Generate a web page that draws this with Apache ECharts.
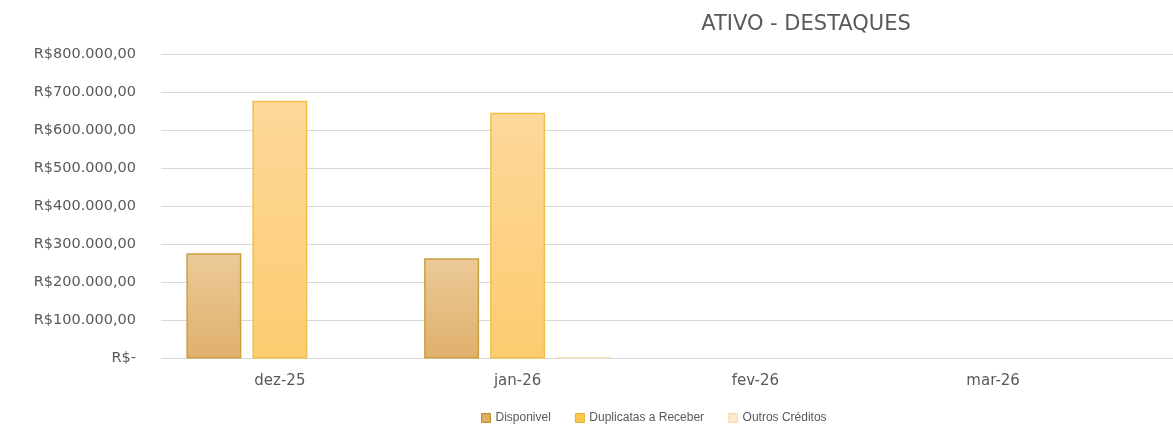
<!DOCTYPE html>
<html>
<head>
<meta charset="utf-8">
<script src="https://cdn.jsdelivr.net/npm/echarts@6/dist/echarts.min.js"></script>
<style>
html,body{margin:0;padding:0;background:#fff;}
#chart{width:1173px;height:425px;}
</style>
</head>
<body>
<div id="chart"></div>
<script>
var categories = ['dez-25', 'jan-26', 'fev-26', 'mar-26'];
var seriesNames = ['Disponivel', 'Duplicatas a Receber', 'Outros Créditos'];
var disponivel = [277000, 264000, null, null];
var duplicatas = [678000, 647000, null, null];
var outros = [0, 4800, null, null];
var yTicks = [0, 100000, 200000, 300000, 400000, 500000, 600000, 700000, 800000];

function fmtBRL(v) {
  if (v === 0) return 'R$-';
  var s = Math.round(v).toString().replace(/\B(?=(\d{3})+(?!\d))/g, '.');
  return 'R$' + s + ',00';
}

var chart = echarts.init(document.getElementById('chart'));
var textColor = '#595959';
var gridTop = 54.5, gridBottom = 66.5;

function grad(c1, c2) {
  return {type: 'linear', x: 0, y: 0, x2: 0, y2: 1, colorStops: [{offset: 0, color: c1}, {offset: 1, color: c2}]};
}

chart.setOption({
  animation: false,
  backgroundColor: '#ffffff',
  title: {
    text: 'ATIVO - DESTAQUES',
    left: 801, top: 9, textAlign: 'center',
    textStyle: {fontFamily: 'DejaVu Sans', fontSize: 21, fontWeight: 'normal', color: textColor}
  },
  legend: {
    top: 407, left: 476,
    itemWidth: 9, itemHeight: 9, itemGap: 24,
    icon: 'rect',
    textStyle: {fontFamily: 'Liberation Sans', fontSize: 12, color: textColor},
    data: [
      {name: seriesNames[0], itemStyle: {color: '#dfae5e', borderColor: '#b98c2c', borderWidth: 1}},
      {name: seriesNames[1], itemStyle: {color: '#fcc84f', borderColor: '#e8b22f', borderWidth: 1}},
      {name: seriesNames[2], itemStyle: {color: '#fde9c8', borderColor: '#f5dcb0', borderWidth: 1}}
    ]
  },
  grid: [
    {left: 161, right: 0, top: gridTop, bottom: gridBottom},
    {left: 161, right: 61, top: gridTop, bottom: gridBottom}
  ],
  xAxis: [
    {gridIndex: 0, type: 'category', data: categories, show: false},
    {
      gridIndex: 1, type: 'category', data: categories,
      axisLine: {show: false}, axisTick: {show: false},
      axisLabel: {fontFamily: 'DejaVu Sans', fontSize: 15, color: textColor, margin: 15}
    }
  ],
  yAxis: [
    {
      gridIndex: 0, type: 'value', min: 0, max: 800000, interval: 100000,
      axisLine: {show: false}, axisTick: {show: false},
      splitLine: {lineStyle: {color: '#d9d9d9', width: 1}},
      axisLabel: {fontFamily: 'DejaVu Sans', fontSize: 14.5, color: textColor, margin: 25,
        formatter: function (v) { return fmtBRL(v); }}
    },
    {gridIndex: 1, type: 'value', min: 0, max: 800000, interval: 100000, show: false, splitLine: {show: false}}
  ],
  series: [
    {
      name: seriesNames[0], type: 'bar', xAxisIndex: 1, yAxisIndex: 1, data: disponivel,
      barWidth: 55, barGap: '20%',
      itemStyle: {color: grad('#ecca98', '#dfb06c'), borderColor: '#c9a040', borderWidth: 1.5}
    },
    {
      name: seriesNames[1], type: 'bar', xAxisIndex: 1, yAxisIndex: 1, data: duplicatas,
      barWidth: 55, barGap: '20%',
      itemStyle: {color: grad('#fdd89a', '#fdcc70'), borderColor: '#f0c04a', borderWidth: 1.5}
    },
    {
      name: seriesNames[2], type: 'bar', xAxisIndex: 1, yAxisIndex: 1, data: outros,
      barWidth: 55, barGap: '20%',
      itemStyle: {color: '#f6e2c2', borderWidth: 0}
    }
  ]
});
</script>
</body>
</html>
